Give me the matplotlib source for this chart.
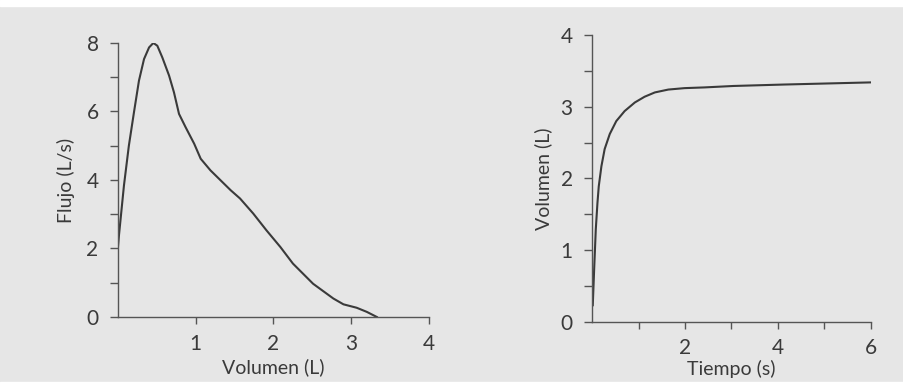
import matplotlib.pyplot as plt
from matplotlib.patches import Rectangle

# Curva flujo-volumen
vol_fv = [0.0, 0.013, 0.077, 0.14, 0.206, 0.27, 0.335, 0.40, 0.455, 0.506, 0.57, 0.657, 0.72, 0.785,
          0.87, 0.98, 1.064, 1.19, 1.32, 1.45, 1.57, 1.74, 1.91, 2.09, 2.25, 2.51, 2.77, 2.9, 3.07, 3.2, 3.33]
flujo = [2.04, 2.39, 3.84, 5.0, 5.98, 6.9, 7.53, 7.87, 8.0, 7.92, 7.58, 7.05, 6.56, 5.93,
         5.54, 5.06, 4.62, 4.28, 3.99, 3.7, 3.46, 3.02, 2.53, 2.04, 1.56, 0.97, 0.54, 0.37, 0.27, 0.15, 0.0]

# Curva volumen-tiempo
tiempo = [0.014, 0.043, 0.079, 0.115, 0.143, 0.2, 0.27, 0.38, 0.52, 0.70, 0.92, 1.13, 1.35, 1.64,
          1.99, 2.42, 3.04, 4.12, 6.0]
vol_vt = [0.23, 0.72, 1.29, 1.66, 1.89, 2.17, 2.41, 2.62, 2.80, 2.94, 3.06, 3.14, 3.2, 3.24,
          3.26, 3.27, 3.29, 3.31, 3.34]

bg = '#e6e6e6'
ink = '#3a3a3a'
plt.rcParams['font.family'] = ['Lato', 'DejaVu Sans']

fig = plt.figure(figsize=(9.04, 3.9), dpi=100, facecolor=bg)
fig.patches.append(Rectangle((0, 0.985), 1, 0.015, transform=fig.transFigure, color='white', zorder=-5))
fig.patches.append(Rectangle((0, 0), 1, 0.02, transform=fig.transFigure, color='white', zorder=-5))


def style(ax):
    ax.set_facecolor(bg)
    for s in ['top', 'right']:
        ax.spines[s].set_visible(False)
    for s in ['left', 'bottom']:
        ax.spines[s].set_color('#555555')
        ax.spines[s].set_linewidth(1.0)
    ax.tick_params(which='both', direction='out', length=6, width=1.0, color='#555555',
                   labelcolor=ink, labelsize=15)
    ax.tick_params(axis='x', which='both', length=5, pad=7)
    ax.tick_params(axis='y', which='both', pad=8)


ax1 = fig.add_axes([0.1305, 0.1872, 0.344, 0.7026])
style(ax1)
ax1.plot(vol_fv, flujo, color=ink, lw=1.5)
ax1.set_xlim(0, 4)
ax1.set_ylim(0, 8)
ax1.set_xticks([1, 2, 3, 4])
ax1.set_yticks([0, 2, 4, 6, 8])
ax1.set_yticks([1, 3, 5, 7], minor=True)
ax1.set_xlabel('Volumen (L)', fontsize=14, color=ink, labelpad=3)
ax1.set_ylabel('Flujo (L/s)', fontsize=14, color=ink, labelpad=8)

ax2 = fig.add_axes([0.655, 0.175, 0.3083, 0.735])
style(ax2)
ax2.plot(tiempo, vol_vt, color=ink, lw=1.5)
ax2.set_xlim(0, 6)
ax2.set_ylim(0, 4)
ax2.set_xticks([2, 4, 6])
ax2.set_xticks([1, 3, 5], minor=True)
ax2.set_yticks([0, 1, 2, 3, 4])
ax2.set_yticks([0.5, 1.5, 2.5, 3.5], minor=True)
ax2.set_xlabel('Tiempo (s)', fontsize=14, color=ink, labelpad=1)
ax2.set_ylabel('Volumen (L)', fontsize=14, color=ink, labelpad=6)

fig.savefig('out.png', dpi=100, facecolor=bg)
